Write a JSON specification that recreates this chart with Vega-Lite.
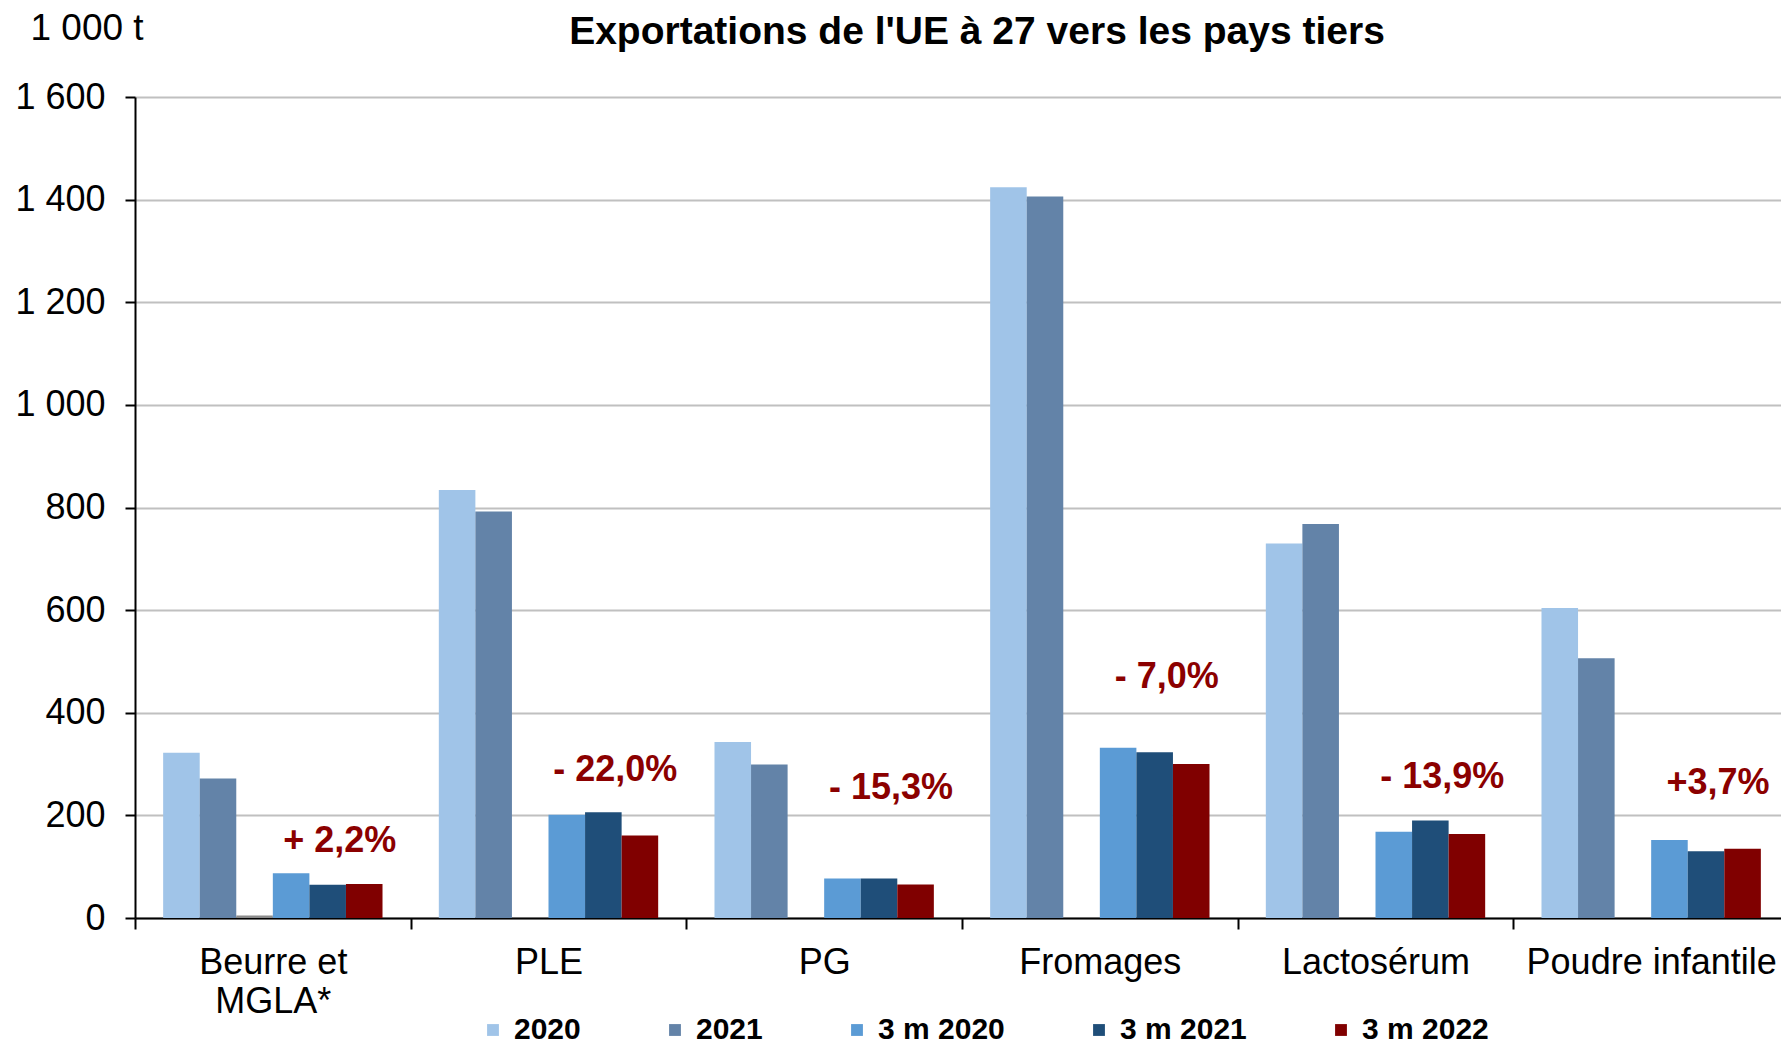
{
  "$schema": "https://vega.github.io/schema/vega-lite/v6.json",
  "width": 1654,
  "height": 821,
  "autosize": {"type": "none"},
  "padding": {"left": 135, "top": 97, "right": -8, "bottom": 128},
  "background": "white",
  "config": {"view": {"stroke": null}, "font": "Liberation Sans"},
  "title": {
    "text": "Exportations de l'UE à 27 vers les pays tiers",
    "font": "Liberation Sans",
    "fontSize": 39,
    "fontWeight": "bold",
    "color": "black",
    "anchor": "middle",
    "dx": 15,
    "dy": 53,
    "offset": 10
  },
  "datasets": {
    "bars": [
      {"cat": "Beurre et MGLA*", "series": "2020", "value": 322},
      {"cat": "Beurre et MGLA*", "series": "2021", "value": 272},
      {"cat": "Beurre et MGLA*", "series": "gap", "value": 5},
      {"cat": "Beurre et MGLA*", "series": "3 m 2020", "value": 87},
      {"cat": "Beurre et MGLA*", "series": "3 m 2021", "value": 65},
      {"cat": "Beurre et MGLA*", "series": "3 m 2022", "value": 66.4},
      {"cat": "PLE", "series": "2020", "value": 834},
      {"cat": "PLE", "series": "2021", "value": 792},
      {"cat": "PLE", "series": "3 m 2020", "value": 201},
      {"cat": "PLE", "series": "3 m 2021", "value": 206},
      {"cat": "PLE", "series": "3 m 2022", "value": 160.7},
      {"cat": "PG", "series": "2020", "value": 343},
      {"cat": "PG", "series": "2021", "value": 299},
      {"cat": "PG", "series": "3 m 2020", "value": 77},
      {"cat": "PG", "series": "3 m 2021", "value": 77},
      {"cat": "PG", "series": "3 m 2022", "value": 65.2},
      {"cat": "Fromages", "series": "2020", "value": 1424},
      {"cat": "Fromages", "series": "2021", "value": 1406},
      {"cat": "Fromages", "series": "3 m 2020", "value": 332},
      {"cat": "Fromages", "series": "3 m 2021", "value": 323},
      {"cat": "Fromages", "series": "3 m 2022", "value": 300},
      {"cat": "Lactosérum", "series": "2020", "value": 730},
      {"cat": "Lactosérum", "series": "2021", "value": 768},
      {"cat": "Lactosérum", "series": "3 m 2020", "value": 168},
      {"cat": "Lactosérum", "series": "3 m 2021", "value": 190},
      {"cat": "Lactosérum", "series": "3 m 2022", "value": 163.6},
      {"cat": "Poudre infantile", "series": "2020", "value": 604},
      {"cat": "Poudre infantile", "series": "2021", "value": 506},
      {"cat": "Poudre infantile", "series": "3 m 2020", "value": 152},
      {"cat": "Poudre infantile", "series": "3 m 2021", "value": 130},
      {"cat": "Poudre infantile", "series": "3 m 2022", "value": 135}
    ],
    "notes": [
      {"cat": "Beurre et MGLA*", "series": "3 m 2021", "y": 150, "label": "+ 2,2%"},
      {"cat": "PLE", "series": "3 m 2021", "y": 288, "label": "- 22,0%"},
      {"cat": "PG", "series": "3 m 2021", "y": 254, "label": "- 15,3%"},
      {"cat": "Fromages", "series": "3 m 2021", "y": 469, "label": "- 7,0%"},
      {"cat": "Lactosérum", "series": "3 m 2021", "y": 274, "label": "- 13,9%"},
      {"cat": "Poudre infantile", "series": "3 m 2021", "y": 263, "label": "+3,7%"}
    ]
  },
  "layer": [
    {
      "data": {"name": "bars"},
      "mark": {"type": "bar"},
      "encoding": {
        "x": {
          "field": "cat",
          "type": "nominal",
          "sort": null,
          "scale": {"paddingInner": 0, "paddingOuter": 0},
          "axis": {
            "title": null,
            "tickBand": "extent",
            "domainColor": "black",
            "domainWidth": 2,
            "tickColor": "black",
            "tickWidth": 2,
            "tickSize": 11,
            "labelAngle": 0,
            "labelFont": "Liberation Sans",
            "labelFontSize": 36,
            "labelColor": "black",
            "labelPadding": 16,
            "labelLineHeight": 39,
            "labelOverlap": false,
            "labelBound": false,
            "labelLimit": 0,
            "labelExpr": "datum.value == 'Beurre et MGLA*' ? ['Beurre et', 'MGLA*'] : datum.value"
          }
        },
        "xOffset": {
          "field": "series",
          "type": "nominal",
          "scale": {
            "domain": ["2020", "2021", "gap", "3 m 2020", "3 m 2021", "3 m 2022"],
            "paddingInner": 0,
            "paddingOuter": 0.77
          }
        },
        "y": {
          "field": "value",
          "type": "quantitative",
          "scale": {"domain": [0, 1600], "nice": false},
          "axis": {
            "values": [0, 200, 400, 600, 800, 1000, 1200, 1400, 1600],
            "labelExpr": "replace(format(datum.value, ','), ',', ' ')",
            "labelFont": "Liberation Sans",
            "labelFontSize": 36,
            "labelColor": "black",
            "labelPadding": 20,
            "tickSize": 10,
            "tickColor": "black",
            "tickWidth": 2,
            "domainColor": "black",
            "domainWidth": 2,
            "gridColor": "#c0c0c0",
            "gridWidth": 2,
            "title": "1 000 t",
            "titleAngle": 0,
            "titleAlign": "left",
            "titleBaseline": "middle",
            "titleFont": "Liberation Sans",
            "titleFontSize": 37,
            "titleFontWeight": "normal",
            "titleColor": "black",
            "titleX": -105,
            "titleY": -69
          }
        },
        "color": {
          "field": "series",
          "type": "nominal",
          "scale": {
            "domain": ["2020", "2021", "gap", "3 m 2020", "3 m 2021", "3 m 2022"],
            "range": ["#a0c4e8", "#6383a8", "#8c8c8c", "#5b9bd5", "#1f4e79", "#800000"]
          },
          "legend": {
            "orient": "none",
            "legendX": 343,
            "legendY": 918,
            "direction": "horizontal",
            "columns": 5,
            "columnPadding": 79,
            "padding": 0,
            "title": null,
            "values": ["2020", "2021", "3 m 2020", "3 m 2021", "3 m 2022"],
            "symbolType": "square",
            "symbolSize": 140,
            "symbolStrokeWidth": 0,
            "labelFont": "Liberation Sans",
            "labelFontSize": 30,
            "labelFontWeight": "bold",
            "labelColor": "black",
            "labelOffset": 6
          }
        }
      }
    },
    {
      "data": {"name": "notes"},
      "mark": {
        "type": "text",
        "font": "Liberation Sans",
        "fontSize": 36,
        "fontWeight": "bold",
        "color": "#8b0000",
        "align": "center",
        "baseline": "middle",
        "dx": 12
      },
      "encoding": {
        "x": {"field": "cat", "type": "nominal", "sort": null},
        "xOffset": {"field": "series", "type": "nominal"},
        "y": {"field": "y", "type": "quantitative"},
        "text": {"field": "label"}
      }
    }
  ]
}
